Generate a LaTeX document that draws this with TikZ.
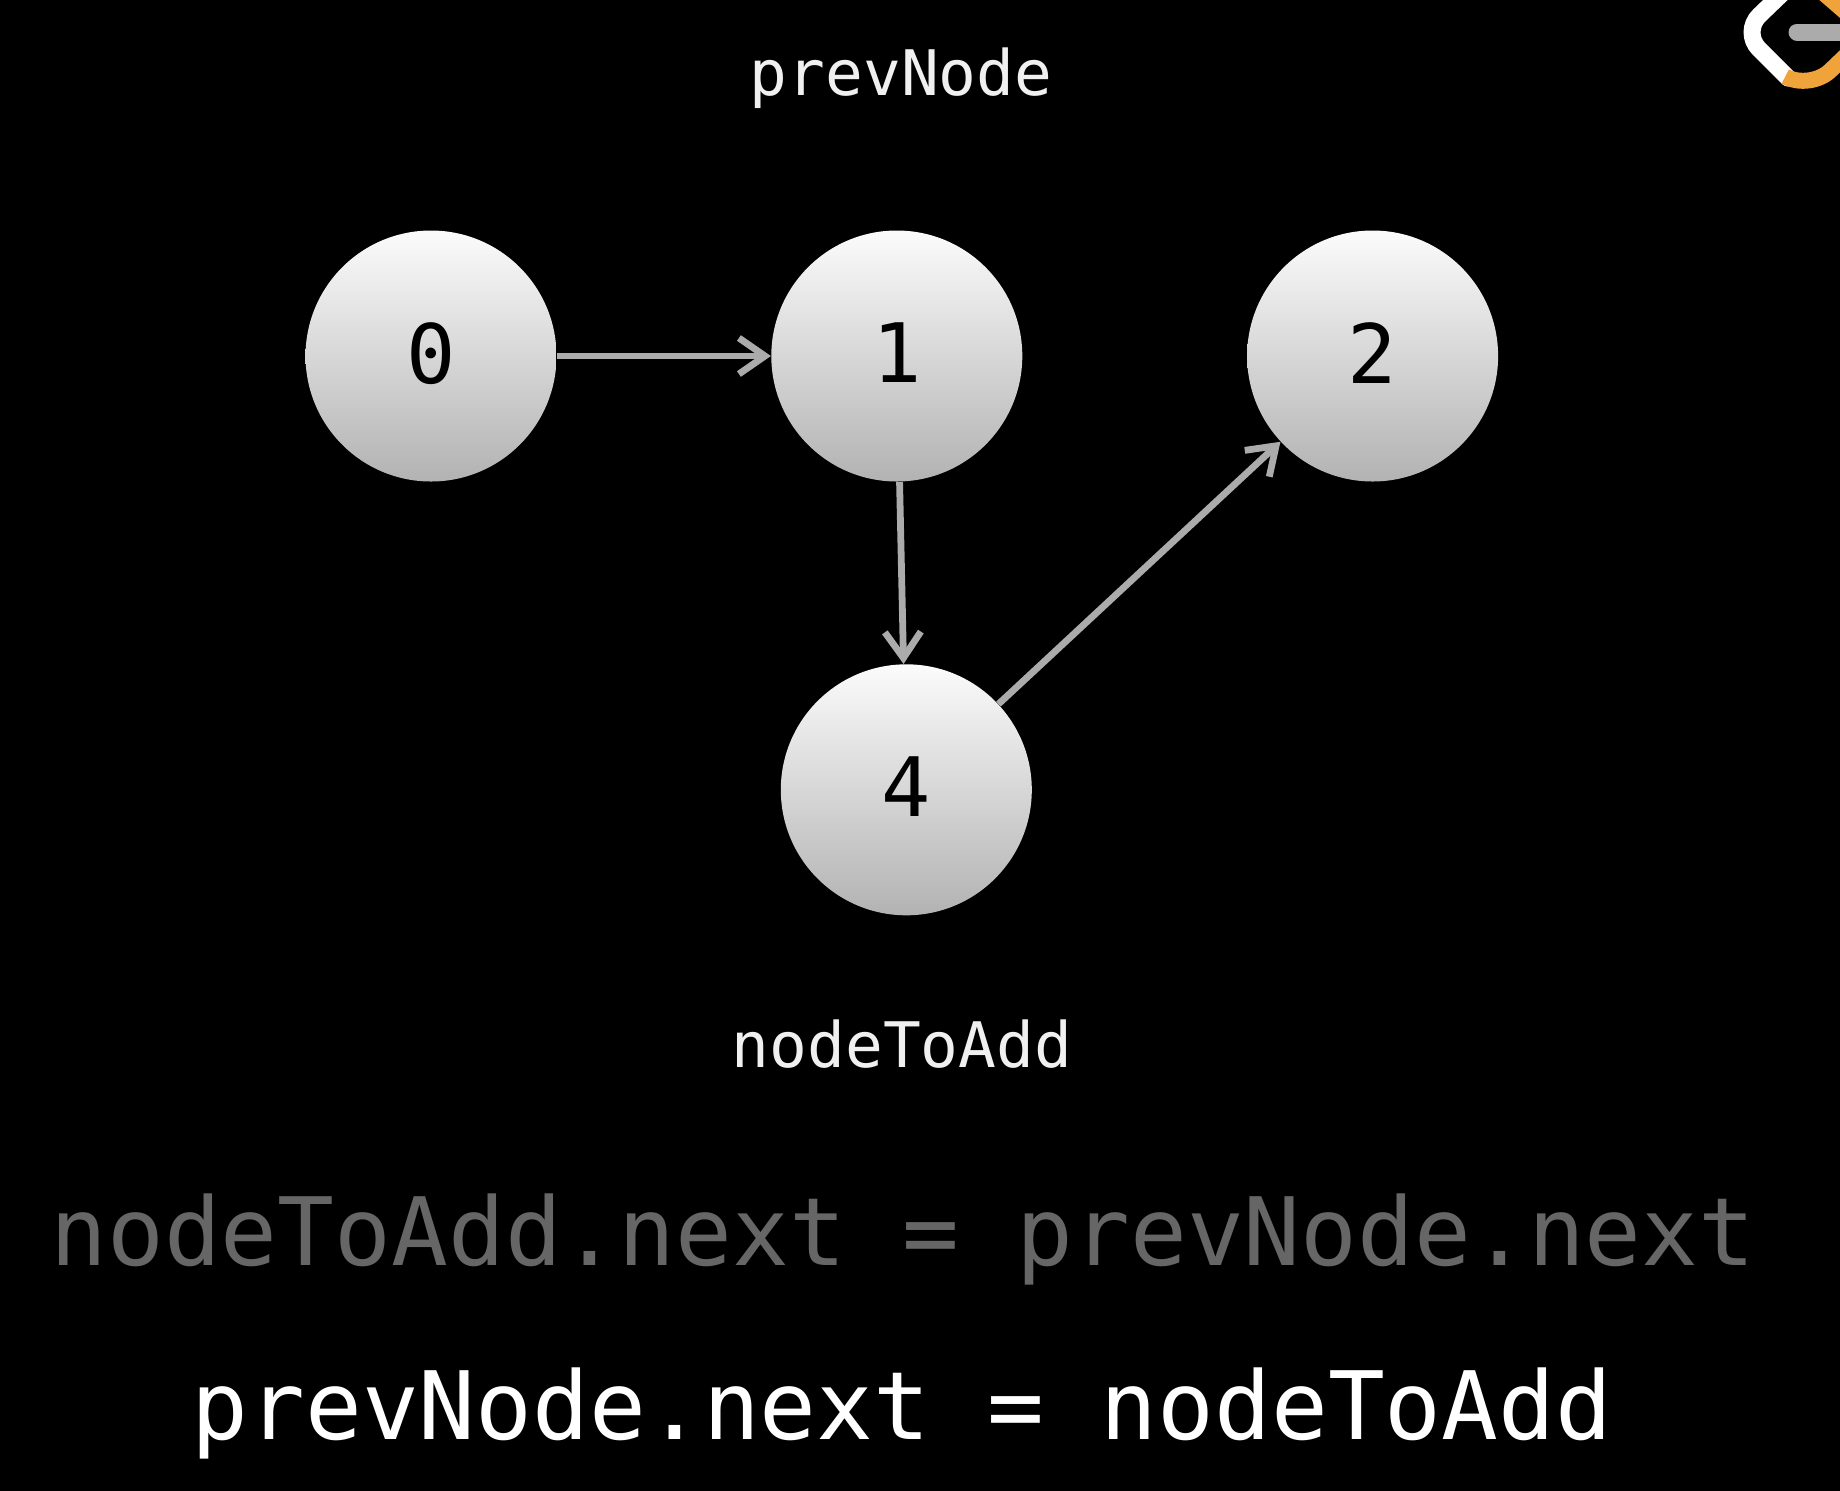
\documentclass[tikz,border=0pt]{standalone}
\usepackage{fontspec}
\setmonofont{DejaVu Sans Mono}
\usetikzlibrary{arrows.meta,positioning}
\definecolor{logoorange}{HTML}{F0A33A}
\tikzset{
  listnode/.style={circle,inner sep=0pt,minimum size=125.5pt,top color=white!97!gray,bottom color=black!30,
    text=black,text depth=3pt,font=\ttfamily\fontsize{41}{41}\selectfont},
  listarrow/.style={-{Straight Barb[length=13pt,width=18pt,line width=3.4pt]},draw=black!33,line width=3.4pt},
  varlabel/.style={anchor=base,inner sep=0pt,text=white!94!black,font=\ttfamily\fontsize{31.4}{31.4}\selectfont},
  codeline/.style={anchor=base,inner sep=0pt,font=\ttfamily\fontsize{47.2}{47.2}\selectfont},
}
\begin{document}
\begin{tikzpicture}[x=0.5pt,y=-0.5pt]
    \useasboundingbox (0,0) rectangle (1840,1490);
    \fill[black] (-10,-10) rectangle (1850,1500);
    % List nodes
    \node[listnode] (n0) at (431,356) {0};
    \node[listnode,right=107pt of n0] (n1) {1};
    \node[listnode,right=112pt of n1] (n2) {2};
    \node[listnode,below=91pt of n1,xshift=4.75pt] (n4) {4};
    \draw[listarrow] (n0) -- (n1);
    \draw[listarrow] (n1) -- (n4);
    \draw[listarrow] (n4) -- (n2);
    % Variable names
    \node[varlabel] (prev) at (901,95) {prevNode};
    \node[varlabel] (add) at (902,1067) {nodeToAdd};
    % Code lines
    \node[codeline,text=black!60] (code1) at (903,1265) {nodeToAdd.next = prevNode.next};
    \node[codeline,text=white] (code2) at (902,1439) {prevNode.next = nodeToAdd};
    % Logo in the corner
    \draw[white,line width=8.5pt,line cap=round,rounded corners=12pt] (1792,-16) -- (1742,32) -- (1788,78);
    \draw[logoorange,line width=8pt,rounded corners=14pt] (1788,78) -- (1810,90) -- (1856,46);
    \draw[black!33,line width=8.5pt,line cap=round] (1797,32) -- (1850,32);
    \draw[logoorange,line width=8pt] (1820,-10) -- (1850,16);
\end{tikzpicture}
\end{document}
